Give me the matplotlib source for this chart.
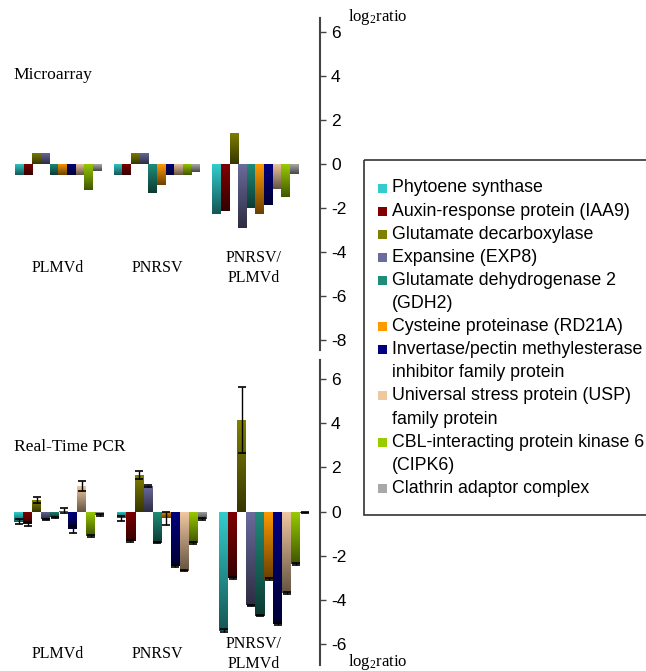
import matplotlib
matplotlib.use("Agg")
import matplotlib.pyplot as plt
import matplotlib.colors as mcolors
from matplotlib.patches import Rectangle
import numpy as np

plt.rcParams['mathtext.default'] = 'regular'
plt.rcParams['axes.unicode_minus'] = False

genes = ["Phytoene synthase", "Auxin-response protein (IAA9)", "Glutamate decarboxylase",
         "Expansine (EXP8)", "Glutamate dehydrogenase 2\n(GDH2)", "Cysteine proteinase (RD21A)",
         "Invertase/pectin methylesterase\ninhibitor family protein",
         "Universal stress protein (USP)\nfamily protein",
         "CBL-interacting protein kinase 6\n(CIPK6)", "Clathrin adaptor complex"]
colors = ["#33cccc", "#800000", "#808000", "#6b6b9e", "#1f8c7a",
          "#ff9900", "#000080", "#f0c8a0", "#99cc00", "#a8a8a8"]
groups = ["PLMVd", "PNRSV", "PNRSV/\nPLMVd"]

# microarray log2 ratios (one value per gene)
micro_plmvd = [-0.5, -0.5, 0.5, 0.5, -0.5, -0.5, -0.5, -0.5, -1.2, -0.3]
micro_pnrsv = [-0.5, -0.5, 0.5, 0.5, -1.3, -0.95, -0.5, -0.5, -0.5, -0.35]
micro_both = [-2.27, -2.12, 1.41, -2.91, -2.0, -2.27, -1.86, -1.14, -1.49, -0.45]

# real-time PCR log2 ratios and errors
pcr_plmvd = [-0.45, -0.56, 0.53, -0.35, -0.26, 0.05, -0.8, 1.16, -1.1, -0.15]
pcr_plmvd_err = [0.1, 0.09, 0.15, 0.03, 0.03, 0.12, 0.15, 0.23, 0.04, 0.03]
pcr_pnrsv = [-0.3, -1.34, 1.66, 1.16, -1.4, -0.3, -2.46, -2.67, -1.43, -0.33]
pcr_pnrsv_err = [0.12, 0.05, 0.2, 0.03, 0.03, 0.3, 0.04, 0.04, 0.05, 0.03]
pcr_both = [-5.39, -3.0, 4.15, -4.24, -4.72, -3.04, -5.1, -3.7, -2.37, -0.05]
pcr_both_err = [0.05, 0.05, 1.5, 0.03, 0.03, 0.05, 0.05, 0.04, 0.05, 0.03]

W, H = 646, 671
group_step = 11.4


def px(x0, y0, x1, y1):
    # pixel box -> figure fraction rect
    return [x0 / W, 1 - y1 / H, (x1 - x0) / W, (y1 - y0) / H]


def shade_bars(ax, bars, color):
    top = np.array(mcolors.to_rgb(color))
    bottom = top * 0.42
    t = np.linspace(0, 1, 64)[:, None, None]
    img = top * (1 - t) + bottom * t
    for b in bars:
        x0, y0 = b.get_x(), b.get_y()
        w, h = b.get_width(), b.get_height()
        lo, hi = min(y0, y0 + h), max(y0, y0 + h)
        im = ax.imshow(img, extent=[x0, x0 + w, lo, hi], aspect='auto',
                       origin='upper', zorder=2, interpolation='bilinear')
        im.set_clip_path(b)


def panel(ax, series, errs, xlim, ylim, yticks):
    for j in range(len(genes)):
        xs = [g * group_step + j + 0.5 for g in range(3)]
        vals = [s[j] for s in series]
        bars = ax.bar(xs, vals, width=1.0, color=colors[j], zorder=1)
        shade_bars(ax, bars, colors[j])
        if errs is not None:
            ax.errorbar(xs, vals, yerr=[e[j] for e in errs], fmt='none',
                        ecolor='black', elinewidth=1, capsize=3, capthick=1.2, zorder=3)
    ax.set_xlim(*xlim)
    ax.set_ylim(*ylim)
    for s in ['left', 'top', 'bottom']:
        ax.spines[s].set_visible(False)
    ax.spines['right'].set_color('#444444')
    ax.spines['right'].set_linewidth(1.5)
    ax.yaxis.tick_right()
    ax.set_yticks(yticks)
    ax.tick_params(axis='y', direction='out', length=4, width=1, color='#444444',
                   labelsize=12.5, pad=4)
    for lab in ax.get_yticklabels():
        lab.set_fontfamily('Liberation Sans')
    ax.set_xticks([])
    ax.patch.set_alpha(0)


fig = plt.figure(figsize=(W / 100, H / 100), dpi=100)

ax1 = fig.add_axes(px(0, 18, 320, 350))
panel(ax1, [micro_plmvd, micro_pnrsv, micro_both], None,
      (-15 / 8.65, -15 / 8.65 + 320 / 8.65), (-8.45, 6.64), range(-8, 7, 2))

ax2 = fig.add_axes(px(0, 360, 320, 665))
panel(ax2, [pcr_plmvd, pcr_pnrsv, pcr_both], [pcr_plmvd_err, pcr_pnrsv_err, pcr_both_err],
      (-14 / 9.0, -14 / 9.0 + 320 / 9.0), (-6.95, 6.87), range(-6, 7, 2))

# overlay in pixel coordinates for texts and legend
ov = fig.add_axes([0, 0, 1, 1])
ov.set_xlim(0, W)
ov.set_ylim(H, 0)
ov.axis('off')

serif = 'Liberation Serif'
ov.text(13, 75, "Microarray", fontsize=12.6, family=serif, va='center', ha='left')
ov.text(14, 447, "Real-Time PCR", fontsize=12.6, family=serif, va='center', ha='left')
ov.text(348, 17, "log$_2$ratio", fontsize=12, family=serif, va='center', ha='left')
ov.text(348, 662, "log$_2$ratio", fontsize=12, family=serif, va='center', ha='left')

for cx, name in zip([58, 157, 254], groups):
    ov.text(cx, 268, name, fontsize=11.5, family=serif,
            ha='center', va='center', linespacing=1.3)
    ov.text(cx, 654, name, fontsize=11.5, family=serif,
            ha='center', va='center', linespacing=1.3)

# legend
ov.add_patch(Rectangle((364, 160), 320, 355, facecolor='none', edgecolor='#333333',
                       linewidth=1.2, clip_on=False))
line = 0
for name, c in zip(genes, colors):
    y = 188 + line * 23.1
    ov.add_patch(Rectangle((378, y - 4.5), 9, 9, facecolor=c, edgecolor='none'))
    for k, part in enumerate(name.split("\n")):
        ov.text(392, y + k * 23.1, part, fontsize=12.8, family='Liberation Sans',
                va='center', ha='left')
    line += len(name.split("\n"))

fig.savefig("out.png", dpi=100)
